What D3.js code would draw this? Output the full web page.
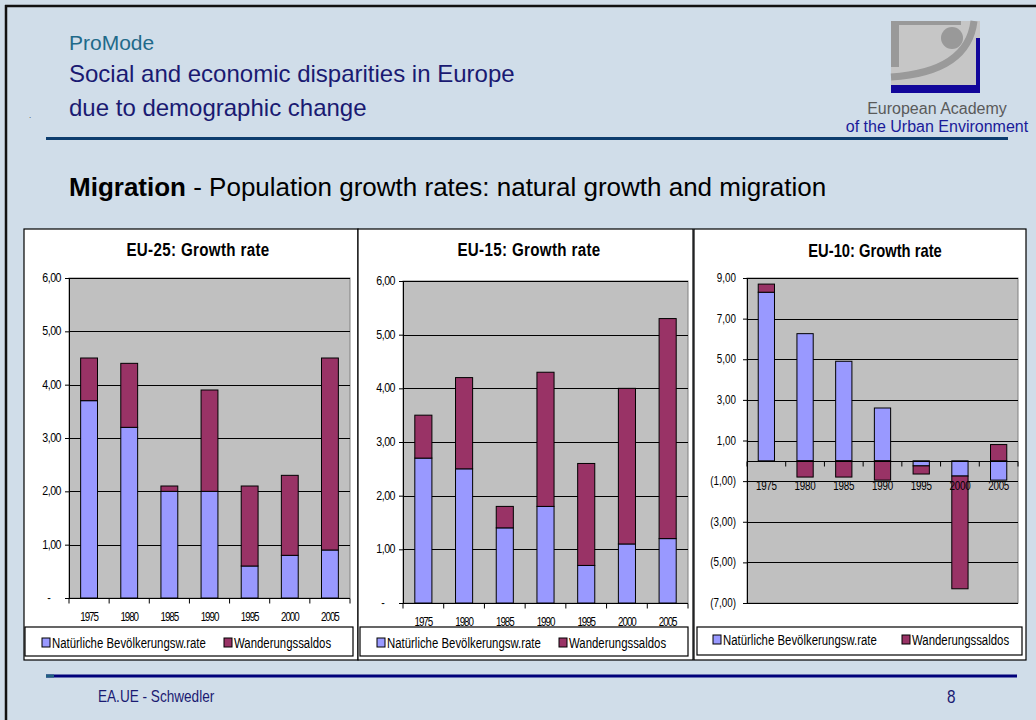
<!DOCTYPE html>
<html>
<head>
<meta charset="utf-8">
<script src="https://cdn.jsdelivr.net/npm/d3@7"></script>
<style>
  body { margin: 0; background: #d0dde9; }
  svg { display: block; }
  text { font-family: "Liberation Sans", Arial, sans-serif; }
</style>
</head>
<body>
<div id="slide"></div>
<script>
// categories and series
const years = ["1975", "1980", "1985", "1990", "1995", "2000", "2005"];

const eu25Natural   = [3.7, 3.2, 2.0, 2.0, 0.6, 0.8, 0.9];
const eu25Migration = [0.8, 1.2, 0.1, 1.9, 1.5, 1.5, 3.6];

const eu15Natural   = [2.7, 2.5, 1.4, 1.8, 0.7, 1.1, 1.2];
const eu15Migration = [0.8, 1.7, 0.4, 2.5, 1.9, 2.9, 4.1];

const eu10Natural   = [8.3, 6.26, 4.9, 2.6, -0.25, -0.75, -0.95];
const eu10Migration = [0.4, -0.8, -0.8, -0.95, -0.4, -5.55, 0.8];

const ticks25 = [0, 1, 2, 3, 4, 5, 6];
const ticks10 = [9, 7, 5, 3, 1, -1, -3, -5, -7];

const legendNames = ["Natürliche Bevölkerungsw.rate", "Wanderungssaldos"];
const colors = { natural: "#9999ff", migration: "#993366" };

const W = 1036, H = 720;
const SX = 0.82; // horizontal squeeze to mimic Arial Narrow

const svg = d3.select("#slide").append("svg").attr("width", W).attr("height", H);

// condensed text: Liberation Sans squeezed sideways
function ntext(parent, x, y, str, size, anchor, sx) {
  return parent.append("text")
    .attr("transform", `translate(${x},${y}) scale(${sx || SX},1)`)
    .attr("font-size", size)
    .attr("text-anchor", anchor || "start")
    .text(str);
}

svg.append("rect").attr("width", W).attr("height", H).attr("fill", "#d0dde9");
// slide frame (only top and left edges visible)
svg.append("line").attr("x1", 5).attr("x2", W).attr("y1", 6).attr("y2", 6)
  .attr("stroke", "#111").attr("stroke-width", 2.5);
svg.append("line").attr("x1", 6).attr("x2", 6).attr("y1", 5).attr("y2", H)
  .attr("stroke", "#111").attr("stroke-width", 2.5);

// header
svg.append("text").attr("x", 69).attr("y", 50)
  .attr("font-size", 21).attr("fill", "#1f6a8a").text("ProMode");
svg.append("text").attr("x", 69).attr("y", 82)
  .attr("font-size", 24).attr("fill", "#1a1a72").text("Social and economic disparities in Europe");
svg.append("text").attr("x", 69).attr("y", 116)
  .attr("font-size", 24).attr("fill", "#1a1a72").text("due to demographic change");
svg.append("text").attr("x", 29).attr("y", 118)
  .attr("font-size", 8).attr("fill", "#333").text(".");
svg.append("line").attr("x1", 46).attr("x2", 1008).attr("y1", 138.5).attr("y2", 138.5)
  .attr("stroke", "#0d3d6e").attr("stroke-width", 3);

// logo
const logo = svg.append("g");
logo.append("rect").attr("x", 891).attr("y", 21).attr("width", 89).attr("height", 72).attr("fill", "#c6c6c6");
logo.append("rect").attr("x", 891).attr("y", 21).attr("width", 70).attr("height", 4).attr("fill", "#999");
logo.append("rect").attr("x", 891).attr("y", 21).attr("width", 8).attr("height", 46).attr("fill", "#999");
logo.append("path").attr("d", "M974,21 Q968,72 891,77").attr("fill", "none")
  .attr("stroke", "#9a9a9a").attr("stroke-width", 7);
logo.append("circle").attr("cx", 952).attr("cy", 38).attr("r", 11).attr("fill", "#999");
logo.append("rect").attr("x", 891).attr("y", 85).attr("width", 89).attr("height", 8).attr("fill", "#12069a");
logo.append("rect").attr("x", 976).attr("y", 38).attr("width", 4).attr("height", 55).attr("fill", "#12069a");
svg.append("text").attr("x", 937).attr("y", 114).attr("text-anchor", "middle")
  .attr("font-size", 16).attr("fill", "#5a5a5a").text("European Academy");
svg.append("text").attr("x", 937).attr("y", 132).attr("text-anchor", "middle")
  .attr("font-size", 16).attr("fill", "#1a1a99").text("of the Urban Environment");

// section title
const sec = svg.append("text").attr("x", 69).attr("y", 196)
  .attr("font-size", 26).attr("fill", "#000");
sec.append("tspan").attr("font-weight", "bold").text("Migration");
sec.append("tspan").text(" - Population growth rates: natural growth and migration");

const fmt = v => d3.format(".2f")(Math.abs(v)).replace(".", ",");

function drawPanel(o) {
  const g = svg.append("g");
  g.append("rect").attr("x", o.box[0]).attr("y", o.box[1]).attr("width", o.box[2]).attr("height", o.box[3])
    .attr("fill", "#fff").attr("stroke", "#000").attr("stroke-width", 1.2);

  ntext(g, o.titleX, o.titleY, o.title, o.titleSize, "middle")
    .attr("font-weight", "bold").attr("letter-spacing", o.titleSpacing);

  const [x0, y0, x1, y1] = o.plot;
  const x = d3.scaleBand().domain(years).range([x0, x1]).paddingInner(0.58).paddingOuter(0.29);
  const y = d3.scaleLinear().domain(o.domain).range([y1, y0]);

  g.append("rect").attr("x", x0).attr("y", y0).attr("width", x1 - x0).attr("height", y1 - y0)
    .attr("fill", "#c0c0c0").attr("stroke", "#808080");

  // gridlines
  g.append("g").selectAll("line").data(o.ticks.filter(t => t !== 0)).join("line")
    .attr("x1", x0).attr("x2", x1)
    .attr("y1", d => Math.round(y(d)) + 0.5).attr("y2", d => Math.round(y(d)) + 0.5)
    .attr("stroke", "#000");

  const rows = years.map((yr, i) => ({ year: yr, natural: o.natural[i], migration: o.migration[i] }));
  const series = d3.stack().keys(["natural", "migration"]).offset(d3.stackOffsetDiverging)(rows);

  g.append("g").selectAll("g").data(series).join("g")
    .attr("fill", d => colors[d.key])
    .selectAll("rect").data(d => d).join("rect")
    .attr("x", d => x(d.data.year))
    .attr("width", x.bandwidth())
    .attr("y", d => y(Math.max(d[0], d[1])))
    .attr("height", d => Math.abs(y(d[0]) - y(d[1])))
    .attr("stroke", "#000").attr("stroke-width", 1);

  // value axis: line and ticks from d3, labels drawn condensed
  const ya = g.append("g").attr("transform", `translate(${x0},0)`)
    .call(d3.axisLeft(y).tickValues(o.ticks).tickSize(4).tickFormat(""));
  ya.select(".domain").attr("stroke", "#000");
  o.ticks.forEach(t => {
    const lab = o.tickFormat(t);
    if (t === 0 && lab === "-") {
      ntext(g, x0 - o.yPad - 12, y(t) + 4, "-", o.yFont, "middle");
    } else {
      ntext(g, x0 - o.yPad, y(t) + 4, lab, o.yFont, "end").attr("letter-spacing", o.ySpacing);
    }
  });

  // category axis at zero
  const zy = Math.round(y(0)) + 0.5;
  g.append("line").attr("x1", x0).attr("x2", x1).attr("y1", zy).attr("y2", zy)
    .attr("stroke", "#000").attr("stroke-width", 1.2);
  const step = x.step();
  g.append("g").selectAll("line").data(d3.range(years.length + 1)).join("line")
    .attr("x1", i => x0 + i * step).attr("x2", i => x0 + i * step)
    .attr("y1", zy).attr("y2", zy + 5).attr("stroke", "#000");
  years.forEach(yr => {
    ntext(g, x(yr) + x.bandwidth() / 2, o.xLabelY, yr, o.xFont, "middle")
      .attr("letter-spacing", o.xSpacing);
  });

  // legend
  const [lx, ly, lw, lh] = o.legend;
  g.append("rect").attr("x", lx).attr("y", ly).attr("width", lw).attr("height", lh)
    .attr("fill", "#fff").attr("stroke", "#000").attr("stroke-width", 1.2);
  ["natural", "migration"].forEach((k, i) => {
    const mx = o.legendX[i];
    g.append("rect").attr("x", mx).attr("y", o.legendY - 10).attr("width", 8).attr("height", 9)
      .attr("fill", colors[k]).attr("stroke", "#000");
    ntext(g, mx + 10, o.legendY, legendNames[i], 15, "start", 0.76);
  });
}

const fmtPos = v => v === 0 ? "-" : fmt(v);
const fmtNeg = v => v < 0 ? "(" + fmt(v) + ")" : fmt(v);

drawPanel({
  box: [24, 229, 334, 431], title: "EU-25: Growth rate", titleX: 198, titleY: 256,
  titleSize: 18.5, titleSpacing: 0.4,
  plot: [69, 278, 350, 598], domain: [0, 6], ticks: ticks25, tickFormat: fmtPos,
  natural: eu25Natural, migration: eu25Migration,
  yPad: 8, yFont: 13, ySpacing: -0.6, xLabelY: 621, xFont: 12, xSpacing: -1.3,
  legend: [25, 627, 328, 29], legendX: [42, 224], legendY: 648
});

drawPanel({
  box: [358, 229, 335, 431], title: "EU-15: Growth rate", titleX: 529, titleY: 256,
  titleSize: 18.5, titleSpacing: 0.4,
  plot: [403, 281, 688, 603], domain: [0, 6], ticks: ticks25, tickFormat: fmtPos,
  natural: eu15Natural, migration: eu15Migration,
  yPad: 8, yFont: 13, ySpacing: -0.6, xLabelY: 626, xFont: 12, xSpacing: -1.3,
  legend: [360, 627, 328, 29], legendX: [377, 559], legendY: 648
});

drawPanel({
  box: [694, 229, 332, 431], title: "EU-10: Growth rate", titleX: 875, titleY: 257,
  titleSize: 18, titleSpacing: 0,
  plot: [747, 278, 1018, 603], domain: [-7, 9], ticks: ticks10, tickFormat: fmtNeg,
  natural: eu10Natural, migration: eu10Migration,
  yPad: 11, yFont: 12, ySpacing: 0, xLabelY: 490, xFont: 12, xSpacing: -0.3,
  legend: [697, 627, 325, 28], legendX: [713, 902], legendY: 645
});

// footer
svg.append("line").attr("x1", 46).attr("x2", 1017).attr("y1", 676).attr("y2", 676)
  .attr("stroke", "#00007a").attr("stroke-width", 3);
svg.append("line").attr("x1", 46).attr("x2", 54).attr("y1", 676).attr("y2", 676)
  .attr("stroke", "#1f5f80").attr("stroke-width", 3);
ntext(svg, 98, 702, "EA.UE - Schwedler", 16, "start", 0.85).attr("fill", "#1a1a72");
ntext(svg, 947, 703, "8", 18, "start", 0.85).attr("fill", "#1a1a72");
</script>
</body>
</html>
